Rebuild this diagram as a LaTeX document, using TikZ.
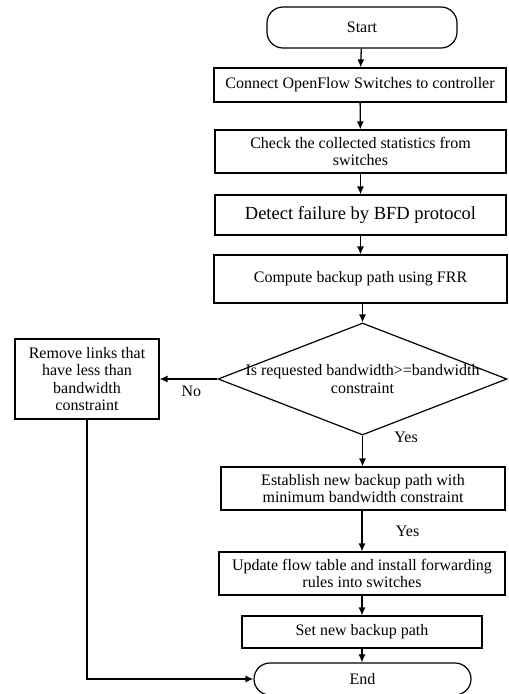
\documentclass[tikz,border=0pt]{standalone}
\usepackage{fontspec}
\setmainfont{Liberation Serif}
\usetikzlibrary{shapes.geometric,arrows.meta}

\tikzset{
	term/.style={draw,line width=1.2pt,rounded corners=16pt,inner sep=2pt},
	proc/.style={draw,line width=1.2pt,align=center,inner sep=2pt},
	decision/.style={draw,diamond,line width=1.2pt,inner sep=0pt},
	arr/.style={-{Latex[length=8pt,width=7pt]},line width=1.3pt},
}

\begin{document}
\begin{tikzpicture}[x=1pt,y=-1pt,font=\fontsize{16}{17.5}\selectfont]
	\useasboundingbox (0,0) rectangle (509,694);
	\node[term,minimum width=190pt,minimum height=41pt] (start) at (362,27.5) {Start};
	\node[proc,minimum width=292pt,minimum height=34pt] (connect) at (360,85) {Connect OpenFlow Switches to controller};
	\node[proc,minimum width=291pt,minimum height=43pt] (check) at (360.5,151.5) {Check the collected statistics from\\switches};
	\node[proc,minimum width=291pt,minimum height=40pt,font=\fontsize{18.5}{20}\selectfont] (detect) at (360.5,215) {Detect failure by BFD protocol};
	\node[proc,minimum width=293pt,minimum height=48pt] (compute) at (360.5,279) {Compute backup path using FRR};
	\node[decision,minimum width=289pt,minimum height=112pt,
		label={[align=center]center:Is requested bandwidth>=bandwidth\\constraint}] (decide) at (362.5,379) {};
	\node[proc,minimum width=144pt,minimum height=80pt] (remove) at (87,379) {Remove links that\\have less than\\bandwidth\\constraint};
	\node[proc,minimum width=284pt,minimum height=43pt] (establish) at (363,488.5) {Establish new backup path with\\minimum bandwidth constraint};
	\node[proc,minimum width=286pt,minimum height=43pt] (update) at (362,573.5) {Update flow table and install forwarding\\rules into switches};
	\node[proc,minimum width=240pt,minimum height=32pt] (setpath) at (362,632) {Set new backup path};
	\node[term,minimum width=217pt,minimum height=32pt] (finish) at (362.5,679) {End};

	\draw[arr] (start) -- (connect);
	\draw[arr] (connect) -- (check);
	\draw[arr] (check) -- (detect);
	\draw[arr] (detect) -- (compute);
	\draw[arr] (compute.south -| decide.north) -- (decide.north);
	\draw[arr] (decide.west) -- node[below=3pt,pos=0.45] {No} (remove.east);
	\draw[arr] (decide.south) -- node[right=28pt,pos=0.05] {Yes} (establish.north -| decide.south);
	\draw[arr] (establish.south -| update.north) -- node[right=30pt] {Yes} (update.north);
	\draw[arr] (update) -- (setpath);
	\draw[arr] (setpath) -- (finish.north -| setpath.south);
	\draw[arr] (remove.south) |- (finish.west);
\end{tikzpicture}
\end{document}
